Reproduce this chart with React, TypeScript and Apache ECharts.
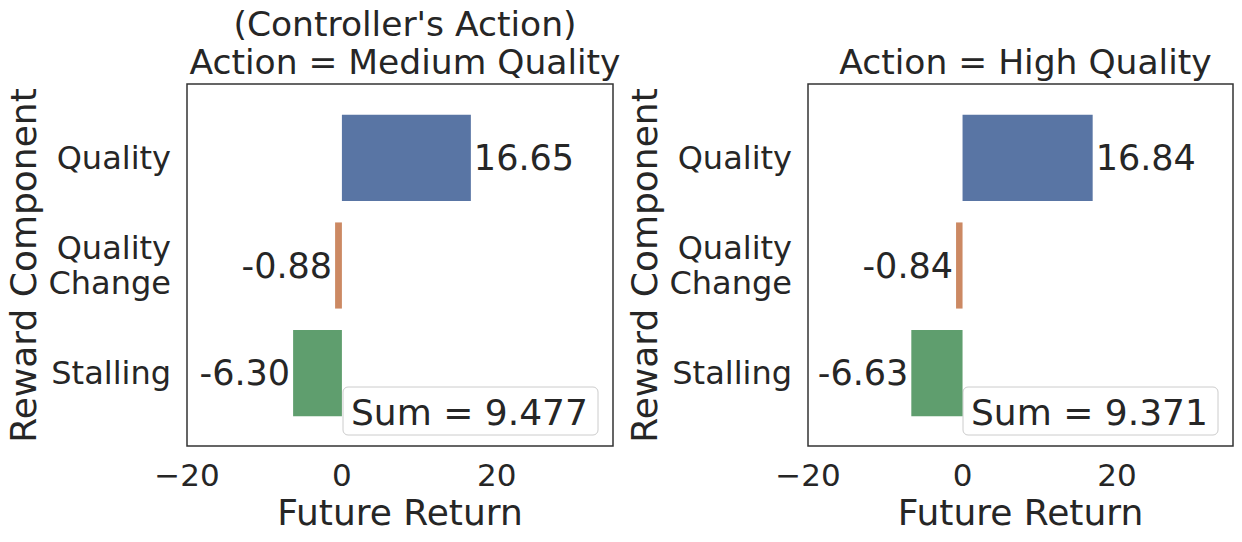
import React, { useEffect, useRef } from "react";
import * as echarts from "echarts";

const categories = ["Quality", "Quality\nChange", "Stalling"];
const mediumValues = [16.65, -0.88, -6.3];
const highValues = [16.84, -0.84, -6.63];
const sums = [9.477, 9.371];
const titles = ["(Controller's Action)\nAction = Medium Quality", "Action = High Quality"];
const barColors = ["#5975A4", "#CC8963", "#5F9E6E"];
const xMin = -20;
const xMax = 35;
const xInterval = 20;

const FONT = "DejaVu Sans";
const TEXT = "#262626";

export default function App() {
  const ref = useRef<HTMLDivElement>(null);
  useEffect(() => {
    if (!ref.current) return;
    const chart = echarts.init(ref.current, null, { renderer: "svg" });
    const panels = [
      { left: 187, width: 426, values: mediumValues, sum: sums[0], title: titles[0], titleTop: 0 },
      { left: 808, width: 425, values: highValues, sum: sums[1], title: titles[1], titleTop: 38 },
    ];
    const frameTop = 84;
    const frameHeight = 362;
    const barTop = 104;
    const barHeight = 323;

    const grid: any[] = [];
    const xAxis: any[] = [];
    const yAxis: any[] = [];
    const series: any[] = [];
    const title: any[] = [];
    const graphic: any[] = [];

    const tickFmt = (v: number) => {
      if (v % xInterval !== 0) return "";
      return v < 0 ? "\u2212" + Math.abs(v) : String(v);
    };

    panels.forEach((p, i) => {
      grid.push({
        left: p.left, top: frameTop, width: p.width, height: frameHeight,
        show: true, borderColor: "#333333", borderWidth: 1.5, backgroundColor: "#ffffff",
      });
      grid.push({ left: p.left, top: barTop, width: p.width, height: barHeight });
      const gFrame = i * 2;
      const gBar = i * 2 + 1;
      xAxis.push({
        type: "value", gridIndex: gFrame, min: xMin, max: xMax, interval: xInterval,
        axisLine: { show: false }, axisTick: { show: false }, splitLine: { show: false },
        axisLabel: { formatter: tickFmt, fontSize: 31, color: TEXT, fontFamily: FONT, margin: 13 },
        name: "Future Return", nameLocation: "middle", nameGap: 48,
        nameTextStyle: { fontSize: 36, color: TEXT, fontFamily: FONT },
      });
      xAxis.push({
        type: "value", gridIndex: gBar, min: xMin, max: xMax, show: false,
      });
      yAxis.push({ type: "value", gridIndex: gFrame, show: false, min: 0, max: 1 });
      yAxis.push({
        type: "category", gridIndex: gBar, data: categories, inverse: true,
        axisLine: { show: false }, axisTick: { show: false }, splitLine: { show: false },
        axisLabel: { fontSize: 32, color: TEXT, fontFamily: FONT, margin: 16, lineHeight: 35, align: "right" },
        name: "Reward Component", nameLocation: "middle", nameGap: 146,
        nameTextStyle: { fontSize: 36, color: TEXT, fontFamily: FONT },
      });
      series.push({
        type: "bar", xAxisIndex: i * 2 + 1, yAxisIndex: i * 2 + 1,
        barCategoryGap: "20%",
        data: p.values.map((v, k) => ({
          value: v,
          itemStyle: { color: barColors[k] },
          label: {
            show: true,
            position: v >= 0 ? "right" : "left",
            distance: 3,
            formatter: v.toFixed(2),
            fontSize: 35, color: TEXT, fontFamily: FONT,
          },
        })),
      });
      title.push({
        text: p.title, left: p.left + p.width / 2, textAlign: "center", top: p.titleTop,
        textStyle: { fontSize: 34.5, color: TEXT, fontFamily: FONT, fontWeight: "normal", lineHeight: 38 },
      });
      const boxW = 255;
      const boxH = 48;
      const boxX = p.left + p.width - 15 - boxW;
      const boxY = 387;
      graphic.push({
        type: "group", z: 100,
        children: [
          {
            type: "rect", shape: { x: boxX, y: boxY, width: boxW, height: boxH, r: 5 },
            style: { fill: "rgba(255,255,255,0.8)", stroke: "#cccccc", lineWidth: 1 },
          },
          {
            type: "text", x: boxX + 8, y: boxY + boxH / 2 + 1,
            style: { text: "Sum = " + p.sum.toFixed(3), fontSize: 36, fill: TEXT, fontFamily: FONT, verticalAlign: "middle", align: "left" },
          },
        ],
      });
    });

    chart.setOption({
      animation: false,
      backgroundColor: "#ffffff",
      title, grid, xAxis, yAxis, series, graphic,
    });
    return () => chart.dispose();
  }, []);
  return <div ref={ref} style={{ position: "fixed", left: 0, top: 0, width: 1242, height: 542 }} />;
}
